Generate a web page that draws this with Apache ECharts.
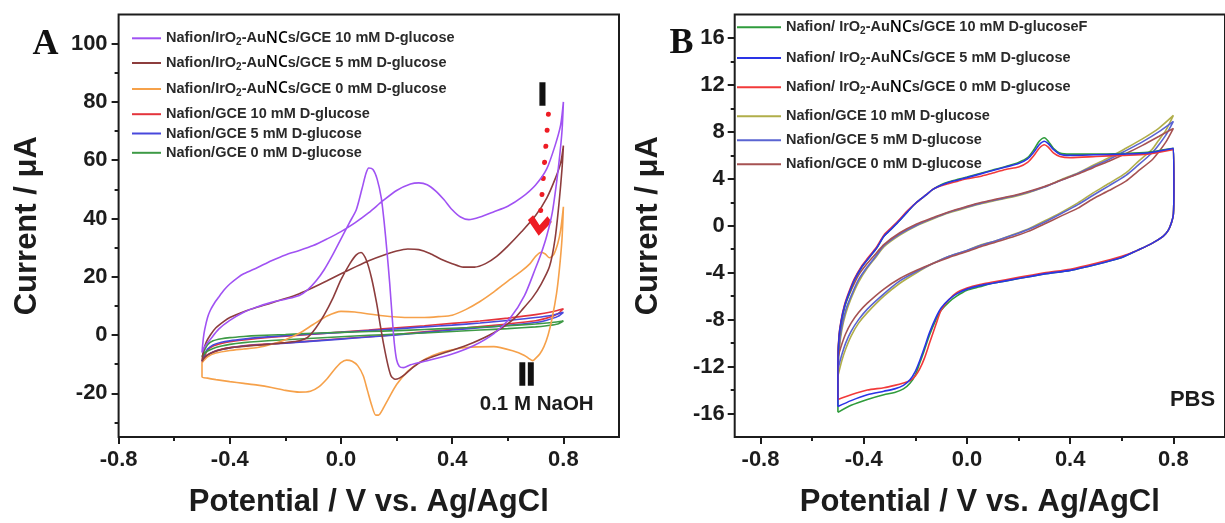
<!DOCTYPE html>
<html><head><meta charset="utf-8">
<script src="https://cdn.jsdelivr.net/npm/echarts@6.0.0/dist/echarts.min.js"></script>
<style>html,body{margin:0;padding:0;background:#fff}#c{width:1225px;height:523px}</style>
</head><body><div id="c"></div>
<script>
// ---------------- Panel A (0.1 M NaOH) ----------------
const A_xTicks = [-0.8, -0.4, 0, 0.4, 0.8];
const A_xMinor = [-0.6, -0.2, 0.2, 0.6];
const A_yTicks = [-20, 0, 20, 40, 60, 80, 100];
const A_yMinor = [-30, -10, 10, 30, 50, 70, 90];

const A_legend = [
  'Nafion/IrO2-AuNCs/GCE 10 mM D-glucose',
  'Nafion/IrO2-AuNCs/GCE 5 mM D-glucose',
  'Nafion/IrO2-AuNCs/GCE 0 mM D-glucose',
  'Nafion/GCE 10 mM D-glucose',
  'Nafion/GCE 5 mM D-glucose',
  'Nafion/GCE 0 mM D-glucose'
];

// IrO2-AuNCs 10 mM (forward then reverse)
const A_ir10_E = [-0.5,-0.495,-0.49,-0.48,-0.47,-0.455,-0.44,-0.42,-0.4,-0.37,-0.35,-0.3,-0.25,-0.2,-0.15,-0.1,-0.05,0,0.05,0.1,0.15,0.2,0.25,0.28,0.31,0.34,0.37,0.4,0.43,0.46,0.5,0.55,0.6,0.65,0.7,0.74,0.77,0.79,0.8,
  0.795,0.785,0.775,0.76,0.74,0.72,0.7,0.66,0.61,0.55,0.48,0.4,0.31,0.25,0.225,0.21,0.2,0.192,0.185,0.175,0.165,0.155,0.145,0.13,0.115,0.1,0.09,0.075,0.055,0.03,0,-0.03,-0.06,-0.09,-0.12,-0.15,-0.2,-0.25,-0.3,-0.35,-0.4,-0.44,-0.47,-0.49,-0.5];
const A_ir10_I = [-6,-1,2,6,8.5,11,13,15.5,17.5,19.8,21,23.2,25.5,27.5,29,30.7,33,35.5,38.5,42,46,49.6,51.8,52.2,51.6,49.5,46.5,43,40.5,39.6,40.5,42.3,44.2,47.2,51.5,57,65,72,80,
  70,60,52,42,34,28,23,13.5,6,0.5,-3.5,-6.5,-8.8,-10.2,-11.2,-10.8,-8.5,-3,5,18,29,39,47,53.5,56.8,57.3,55.5,50,43,38.5,33,27.5,22.5,18.5,15.5,13.6,12.3,11.2,9.7,7.8,5,2,-1.5,-4,-6];

// IrO2-AuNCs 5 mM
const A_ir5_E = [-0.5,-0.495,-0.485,-0.47,-0.45,-0.42,-0.4,-0.35,-0.3,-0.25,-0.2,-0.15,-0.1,-0.05,0,0.05,0.1,0.15,0.2,0.24,0.28,0.32,0.36,0.4,0.44,0.48,0.52,0.56,0.6,0.65,0.7,0.74,0.77,0.79,0.8,
  0.795,0.785,0.77,0.75,0.72,0.69,0.65,0.62,0.55,0.45,0.35,0.3,0.26,0.23,0.21,0.195,0.18,0.168,0.155,0.142,0.128,0.11,0.092,0.072,0.055,0.032,0,-0.03,-0.06,-0.09,-0.12,-0.15,-0.2,-0.25,-0.3,-0.35,-0.4,-0.44,-0.47,-0.49,-0.5];
const A_ir5_I = [-9,-5.5,-2.5,0,2.5,4.8,6,8,9.6,11,12.5,14.2,16.3,18.6,21,23.3,25.5,27.3,28.8,29.5,29.3,28,26,24.5,23.3,23.3,24.5,27,30.5,35.5,41,47,53.5,59,65,
  57,46,33,23.5,17.5,13,8.5,5.4,0.8,-3.6,-6.8,-8.6,-11,-13.5,-14.8,-15.2,-14,-10,-4,3,11,19.5,25.5,28.3,27.5,24.5,19,12.5,7,2.5,-0.8,-2,-2.6,-3.1,-3.5,-3.9,-4.4,-5.2,-6.3,-7.6,-9];

// IrO2-AuNCs 0 mM
const A_ir0_E = [-0.5,-0.48,-0.45,-0.4,-0.35,-0.3,-0.25,-0.2,-0.15,-0.1,-0.05,0,0.05,0.1,0.15,0.2,0.25,0.3,0.35,0.4,0.45,0.5,0.55,0.6,0.65,0.68,0.7,0.72,0.735,0.75,0.765,0.78,0.79,0.8,
  0.795,0.785,0.775,0.76,0.745,0.73,0.715,0.7,0.69,0.675,0.66,0.62,0.55,0.45,0.38,0.33,0.28,0.24,0.2,0.17,0.15,0.135,0.125,0.11,0.095,0.08,0.06,0.04,0.02,0,-0.025,-0.05,-0.08,-0.11,-0.15,-0.2,-0.25,-0.3,-0.35,-0.4,-0.45,-0.48,-0.5,-0.5];
const A_ir0_I = [-9.5,-7.5,-6.2,-5.3,-4.8,-4.3,-3.2,-1.6,0.6,3.6,6.5,8.1,7.9,7.2,6.6,6.2,6,6,6.3,6.8,8.8,11.5,14.8,18.5,22,24.5,27,28.4,27.8,26.5,27.6,31.5,36,44,
  33,22,14,6,0,-4,-6.5,-8,-8.8,-8,-7,-5.5,-4,-4.3,-5.5,-7,-9.5,-12.5,-17,-22,-25.5,-27.5,-27.5,-24,-19,-14,-10.5,-9,-8.6,-9.5,-12,-15,-17.8,-19.3,-19.6,-19,-18,-17.2,-16.6,-16,-15.3,-14.8,-14.3,-9.5];

// Nafion/GCE loops (shared potential grid)
const A_gce_E = [-0.5,-0.49,-0.48,-0.46,-0.43,-0.4,-0.35,-0.3,-0.2,-0.1,0,0.1,0.2,0.3,0.4,0.5,0.6,0.7,0.76,0.8,
  0.78,0.74,0.7,0.6,0.5,0.4,0.3,0.2,0.1,0,-0.1,-0.2,-0.3,-0.35,-0.4,-0.43,-0.46,-0.48,-0.49,-0.5];
const A_gce10_I = [-9.5,-7,-5.2,-3.8,-2.9,-2.3,-1.7,-1.2,-0.4,0.3,1,1.7,2.5,3.2,4,4.8,5.8,7,8,9,
  7.3,5.8,4.9,3.8,2.9,2,1.1,0.2,-0.6,-1.3,-2,-2.7,-3.3,-3.7,-4.3,-4.9,-5.8,-6.8,-7.8,-9.5];
const A_gce5_I = [-9,-6.5,-4.8,-3.4,-2.5,-2,-1.4,-0.9,-0.2,0.4,0.9,1.5,2.1,2.8,3.4,4.1,5,6,6.8,7.8,
  6.4,5.1,4.3,3.3,2.5,1.7,0.9,0,-0.7,-1.4,-2.1,-2.8,-3.4,-3.8,-4.4,-5,-5.8,-6.8,-7.6,-9];
const A_gce0_I = [-7.5,-5,-3.3,-2,-1.3,-0.9,-0.5,-0.2,0.2,0.6,0.9,1.2,1.5,1.9,2.3,2.7,3.2,3.8,4.3,4.8,
  3.8,3.2,2.8,2.2,1.7,1.2,0.7,0.3,-0.1,-0.6,-1.1,-1.6,-2.2,-2.6,-3.2,-3.8,-4.6,-5.5,-6.3,-7.5];

// dotted arrow annotation (potential, current)
const A_arrow = [[0.746, 75.8], [0.714, 37.5]];

// ---------------- Panel B (PBS) ----------------
const B_xTicks = [-0.8, -0.4, 0, 0.4, 0.8];
const B_xMinor = [-0.6, -0.2, 0.2, 0.6];
const B_yTicks = [-16, -12, -8, -4, 0, 4, 8, 12, 16];
const B_yMinor = [-14, -10, -6, -2, 2, 6, 10, 14];

const B_legend = [
  'Nafion/ IrO2-AuNCs/GCE 10 mM D-glucoseF',
  'Nafion/ IrO2-AuNCs/GCE 5 mM D-glucose',
  'Nafion/ IrO2-AuNCs/GCE 0 mM D-glucose',
  'Nafion/GCE 10 mM D-glucose',
  'Nafion/GCE 5 mM D-glucose',
  'Nafion/GCE 0 mM D-glucose'
];

const B_ir_E = [-0.5,-0.5,-0.496,-0.488,-0.474,-0.455,-0.436,-0.41,-0.386,-0.35,-0.322,-0.29,-0.259,-0.23,-0.195,-0.16,-0.132,-0.1,-0.069,-0.035,0,0.05,0.1,0.15,0.2,0.235,0.26,0.28,0.3,0.315,0.335,0.36,0.4,0.5,0.6,0.7,0.8,
  0.802,0.8,0.793,0.78,0.76,0.717,0.66,0.6,0.5,0.4,0.3,0.2,0.1,0.05,0,-0.04,-0.07,-0.1,-0.12,-0.145,-0.165,-0.183,-0.2,-0.22,-0.246,-0.28,-0.322,-0.386,-0.449,-0.5];
const B_ir10_I = [-15.9,-11.9,-9.6,-8.3,-6.9,-5.7,-4.6,-3.6,-2.9,-1.9,-0.9,-0.2,0.5,1.2,2.0,2.6,3.1,3.5,3.75,3.95,4.15,4.45,4.75,5.05,5.4,5.8,6.5,7.2,7.5,7.2,6.6,6.2,6.1,6.1,6.15,6.25,6.6,
  3,1.0,0.3,-0.4,-0.9,-1.5,-2.1,-2.7,-3.3,-3.8,-4.1,-4.5,-4.9,-5.2,-5.5,-6.0,-6.5,-7.2,-8.0,-9.3,-10.6,-11.7,-12.7,-13.4,-13.9,-14.2,-14.4,-14.8,-15.3,-15.9];
const B_ir5_I = [-15.4,-11.8,-9.5,-8.2,-6.8,-5.6,-4.6,-3.6,-2.9,-1.9,-0.9,-0.2,0.5,1.2,2.0,2.6,3.1,3.45,3.7,3.9,4.1,4.4,4.7,5.0,5.3,5.7,6.3,6.9,7.2,7.0,6.5,6.1,6.0,6.05,6.1,6.2,6.6,
  3,1.0,0.3,-0.4,-0.9,-1.5,-2.1,-2.7,-3.3,-3.8,-4.1,-4.5,-4.9,-5.1,-5.4,-5.8,-6.3,-7.0,-7.8,-9.1,-10.4,-11.5,-12.4,-13.1,-13.6,-13.9,-14.1,-14.4,-14.9,-15.4];
const B_ir0_I = [-14.8,-11.6,-9.4,-8.1,-6.7,-5.5,-4.5,-3.5,-2.8,-1.8,-0.8,-0.1,0.6,1.3,2.0,2.6,3.1,3.4,3.6,3.8,4.0,4.2,4.5,4.8,5.0,5.4,6.0,6.6,6.9,6.7,6.2,5.9,5.8,5.9,6.0,6.1,6.5,
  3,1.0,0.3,-0.4,-0.9,-1.5,-2.1,-2.6,-3.2,-3.7,-4.0,-4.4,-4.8,-5.0,-5.3,-5.7,-6.3,-7.2,-8.4,-10.0,-11.3,-12.2,-12.8,-13.2,-13.4,-13.6,-13.8,-14.0,-14.4,-14.8];

const B_gce_E = [-0.5,-0.495,-0.485,-0.47,-0.449,-0.42,-0.386,-0.35,-0.322,-0.26,-0.195,-0.13,-0.069,0,0.058,0.11,0.185,0.235,0.3,0.362,0.43,0.489,0.55,0.616,0.68,0.743,0.8,
  0.77,0.74,0.717,0.66,0.616,0.55,0.489,0.43,0.362,0.3,0.235,0.185,0.11,0.058,0,-0.069,-0.13,-0.195,-0.26,-0.322,-0.386,-0.42,-0.449,-0.47,-0.485,-0.5];
const B_gce10_I = [-12.8,-10.6,-8.9,-7.5,-6.2,-4.8,-3.6,-2.6,-1.8,-0.8,0,0.6,1.1,1.55,1.9,2.15,2.5,2.8,3.3,3.9,4.5,5.15,5.8,6.6,7.4,8.3,9.4,
  8.1,7.2,6.5,5.4,4.5,3.6,2.8,1.95,1.1,0.4,-0.3,-0.7,-1.3,-1.6,-2.1,-2.6,-3.2,-4.0,-4.9,-6.0,-7.4,-8.3,-9.4,-10.5,-11.5,-12.8];
const B_gce5_I = [-12.2,-10.2,-8.6,-7.2,-6.0,-4.6,-3.5,-2.5,-1.7,-0.7,0.05,0.65,1.15,1.6,1.95,2.2,2.55,2.85,3.3,3.85,4.45,5.05,5.65,6.4,7.15,8.0,8.9,
  7.7,6.8,6.2,5.1,4.3,3.4,2.6,1.8,1.0,0.3,-0.35,-0.75,-1.3,-1.65,-2.1,-2.6,-3.2,-3.9,-4.7,-5.8,-7.1,-8.0,-9.0,-10.0,-11.0,-12.2];
const B_gce0_I = [-11.2,-9.5,-8.0,-6.6,-5.5,-4.2,-3.2,-2.3,-1.6,-0.6,0.15,0.7,1.2,1.65,2.0,2.25,2.6,2.9,3.35,3.85,4.4,4.95,5.5,6.15,6.85,7.6,8.3,
  7.1,6.2,5.6,4.6,3.8,3.0,2.3,1.5,0.8,0.15,-0.5,-0.9,-1.4,-1.75,-2.2,-2.7,-3.2,-3.8,-4.5,-5.4,-6.6,-7.4,-8.3,-9.2,-10.1,-11.2];

// ---------------- build ----------------
const pairs = (E, I) => E.map((e, k) => [e, I[k]]);
const FONT = 'Liberation Sans';
const INK = '#1c1c1c';

function richify(label) {
  if (label.indexOf('IrO2-AuNCs') >= 0) {
    const parts = label.split('IrO2-AuNCs');
    return '{t|' + parts[0] + 'IrO}{s|2}{t|-Au}{nc|NC}{t|s' + parts[1] + '}';
  }
  return '{t|' + label + '}';
}
const rich = {
  t: {fontSize: 14.5, fontWeight: 'bold', color: '#2a2a2a', fontFamily: FONT, lineHeight: 18, verticalAlign: 'middle'},
  s: {fontSize: 10, fontWeight: 'bold', color: '#2a2a2a', fontFamily: FONT, lineHeight: 8, verticalAlign: 'bottom'},
  nc: {fontSize: 15.5, fontWeight: 600, color: '#000', fontFamily: 'Open Sans', lineHeight: 18, verticalAlign: 'middle'}
};

const colorsA = ['#a052f3', '#8d3d3d', '#f6a14a', '#e4343c', '#4848dc', '#3e9a46'];
const colorsB = ['#2f9c3c', '#2a34e6', '#f23a3a', '#b0ae4a', '#5a64d2', '#a65252'];

const dataA = [pairs(A_ir10_E, A_ir10_I), pairs(A_ir5_E, A_ir5_I), pairs(A_ir0_E, A_ir0_I),
               pairs(A_gce_E, A_gce10_I), pairs(A_gce_E, A_gce5_I), pairs(A_gce_E, A_gce0_I)];
const dataB = [pairs(B_ir_E, B_ir10_I), pairs(B_ir_E, B_ir5_I), pairs(B_ir_E, B_ir0_I),
               pairs(B_gce_E, B_gce10_I), pairs(B_gce_E, B_gce5_I), pairs(B_gce_E, B_gce0_I)];

const namesA = A_legend.map((l, k) => 'A' + k);
const namesB = B_legend.map((l, k) => 'B' + k);
const labelOf = {};
A_legend.forEach((l, k) => labelOf[namesA[k]] = richify(l));
B_legend.forEach((l, k) => labelOf[namesB[k]] = richify(l));

const series = [];
const zA = [5, 4, 3, 2, 2, 2];
dataA.forEach((d, k) => {
  const s = {type: 'line', name: namesA[k], xAxisIndex: 0, yAxisIndex: 0, data: d, symbol: 'none',
    smooth: 0.25, z: zA[k], lineStyle: {color: colorsA[k], width: 1.6}, itemStyle: {color: colorsA[k]}};
  if (k === 0) {
    s.markLine = {silent: true, symbol: ['none', 'path://M5,0 L10,7 L8,9.5 L5,5 L2,9.5 L0,7 Z'], symbolSize: [24, 20],
      label: {show: false}, lineStyle: {color: '#ee1c24', width: 5, type: [0.1, 16], cap: 'round'},
      emphasis: {disabled: true},
      data: [[{coord: A_arrow[0]}, {coord: A_arrow[1]}]]};
  }
  series.push(s);
});
const zB = [3, 5, 4, 2, 2, 2];
dataB.forEach((d, k) => {
  series.push({type: 'line', name: namesB[k], xAxisIndex: 2, yAxisIndex: 2, data: d, symbol: 'none',
    smooth: 0.25, z: zB[k], lineStyle: {color: colorsB[k], width: 1.6}, itemStyle: {color: colorsB[k]}});
});

const rowsA = [39.3, 64, 90, 115.7, 135, 154.3];
const rowsB = [28.3, 59, 88.3, 117.7, 141.7, 165.7];
const legends = [];
namesA.forEach((n, k) => legends.push({data: [n], left: 132, top: rowsA[k] - 9, itemWidth: 29, itemHeight: 2,
  icon: 'rect', padding: 0, selectedMode: false, formatter: nm => labelOf[nm], textStyle: {rich: rich}}));
namesB.forEach((n, k) => legends.push({data: [n], left: 737, top: rowsB[k] - 9, itemWidth: 44, itemHeight: 2,
  icon: 'rect', padding: 0, selectedMode: false, formatter: nm => labelOf[nm], textStyle: {rich: rich}}));

const tickLabel = {fontSize: 22, fontWeight: 'bold', color: INK, fontFamily: FONT};
const nameStyle = {fontSize: 31, fontWeight: 'bold', color: INK, fontFamily: FONT};
function mainX(grid, min, max, ticks) {
  return {gridIndex: grid, type: 'value', min: min, max: max, position: 'bottom',
    axisLine: {show: false, onZero: false}, splitLine: {show: false},
    axisTick: {show: true, customValues: ticks, length: 7, lineStyle: {color: INK, width: 2}},
    axisLabel: Object.assign({customValues: ticks, margin: 12, formatter: v => Number(v).toFixed(1)}, tickLabel),
    name: 'Potential / V vs. Ag/AgCl', nameLocation: 'middle', nameGap: 50, nameTextStyle: nameStyle};
}
function minorAxis(grid, min, max, ticks, pos) {
  return {gridIndex: grid, type: 'value', min: min, max: max, position: pos,
    axisLine: {show: false, onZero: false}, splitLine: {show: false}, axisLabel: {show: false},
    axisTick: {show: true, customValues: ticks, length: 4, lineStyle: {color: INK, width: 2}}};
}
function mainY(grid, min, max, ticks, gap, margin) {
  return {gridIndex: grid, type: 'value', min: min, max: max, position: 'left',
    axisLine: {show: false, onZero: false}, splitLine: {show: false},
    axisTick: {show: true, customValues: ticks, length: 7, lineStyle: {color: INK, width: 2}},
    axisLabel: Object.assign({customValues: ticks, margin: margin, formatter: v => String(v)}, tickLabel),
    name: 'Current / \u03bcA', nameLocation: 'middle', nameGap: gap, nameTextStyle: nameStyle};
}

const txt = (text, x, y, font, extra) => ({type: 'text', x: x, y: y, silent: true, z: 100,
  style: Object.assign({text: text, font: font, fill: '#111', align: 'center', verticalAlign: 'middle'}, extra || {})});

const option = {
  animation: false,
  backgroundColor: '#fff',
  grid: [
    {left: 118.6, top: 14.5, width: 500.4, height: 424, show: true, borderColor: INK, borderWidth: 2, backgroundColor: 'transparent'},
    {left: 734.7, top: 14.5, width: 499.7, height: 423, show: true, borderColor: INK, borderWidth: 2, backgroundColor: 'transparent'}
  ],
  xAxis: [
    mainX(0, -0.8, 1.0, A_xTicks), minorAxis(0, -0.8, 1.0, A_xMinor, 'bottom'),
    mainX(1, -0.9, 1.0, B_xTicks), minorAxis(1, -0.9, 1.0, B_xMinor, 'bottom')
  ],
  yAxis: [
    mainY(0, -35, 110, A_yTicks, 76, 11), minorAxis(0, -35, 110, A_yMinor, 'left'),
    mainY(1, -18, 18, B_yTicks, 71, 10), minorAxis(1, -18, 18, B_yMinor, 'left')
  ],
  legend: legends,
  series: series,
  graphic: [
    txt('A', 45.5, 45, 'bold 36px "Liberation Serif"'),
    txt('B', 681.5, 44, 'bold 36px "Liberation Serif"'),
    txt('I', 542.5, 96, 'bold 32px "Liberation Sans"', {stroke: '#111', lineWidth: 1.5}),
    txt('II', 526.5, 376, 'bold 31px "Liberation Sans"', {stroke: '#111', lineWidth: 1.5}),
    txt('0.1 M NaOH', 536.7, 404, 'bold 20.5px "Liberation Sans"', {fill: '#1c1c1c'}),
    txt('PBS', 1192.5, 400, 'bold 22px "Liberation Sans"', {fill: '#1c1c1c'})
  ]
};

const chart = echarts.init(document.getElementById('c'), null, {renderer: 'canvas'});
chart.setOption(option);
</script></body></html>
